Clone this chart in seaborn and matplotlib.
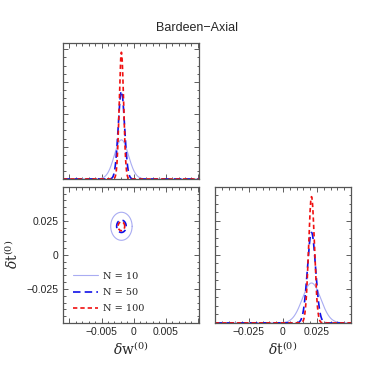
import numpy as np
import pandas as pd
import matplotlib
matplotlib.use("Agg")
import matplotlib.pyplot as plt
import seaborn as sns
from matplotlib.ticker import MultipleLocator, FuncFormatter, NullFormatter

# forecast results
n_values = [10, 50, 100]
labels = ["N = 10", "N = 50", "N = 100"]
w_center = -0.0019
t_center = 0.021
sigma_w = [0.0011, 0.00049, 0.00034]
sigma_t = [0.0068, 0.0030, 0.00215]

colors = ["#a9acf2", "#1010e8", "#f01010"]
dashes = [None, (4.5, 2.5), (2.6, 1.8)]
widths = [0.8, 1.2, 1.2]

sns.set_style("white")
plt.rcParams["font.family"] = ["Liberation Sans", "DejaVu Sans"]
plt.rcParams["mathtext.fontset"] = "dejavuserif"

fig = plt.figure(figsize=(3.9, 3.9), dpi=100)
ax_w = fig.add_axes([0.1615, 0.541, 0.349, 0.349])
ax_wt = fig.add_axes([0.1615, 0.172, 0.349, 0.349])
ax_t = fig.add_axes([0.551, 0.172, 0.349, 0.349])

wlim = (-0.011, 0.0102)
tlim = (-0.05, 0.05)


def make_fmt(vmax):
    def fmt(v, pos):
        if abs(v) < 1e-12:
            return "0"
        if abs(v) > vmax:
            return ""
        return f"{v:g}".replace("-", "\u2212")
    return FuncFormatter(fmt)


def gauss(x, mu, s):
    return np.exp(-0.5 * ((x - mu) / s) ** 2) / (s * np.sqrt(2 * np.pi))


xw = np.linspace(*wlim, 600)
xt = np.linspace(*tlim, 600)
for i, n in enumerate(n_values):
    kw = dict(color=colors[i], linewidth=widths[i])
    df_w = pd.DataFrame({"x": xw, "p": gauss(xw, w_center, sigma_w[i])})
    df_t = pd.DataFrame({"x": xt, "p": gauss(xt, t_center, sigma_t[i])})
    sns.lineplot(data=df_w, x="x", y="p", ax=ax_w, **kw)
    sns.lineplot(data=df_t, x="x", y="p", ax=ax_t, **kw)
    # 68% contour of the 2D gaussian
    a = np.linspace(0, 2 * np.pi, 200)
    r = np.sqrt(2.30)
    df_e = pd.DataFrame({"w": w_center + r * sigma_w[i] * np.cos(a),
                         "t": t_center + r * sigma_t[i] * np.sin(a)})
    sns.lineplot(data=df_e, x="w", y="t", ax=ax_wt, sort=False,
                 estimator=None, label=labels[i], **kw)
    for ax in (ax_w, ax_t, ax_wt):
        if dashes[i] is not None:
            ax.lines[-1].set_dashes(dashes[i])

ax_w.set_xlim(*wlim)
ax_w.set_ylim(0, 1260)
ax_w.xaxis.set_major_locator(MultipleLocator(0.005))
ax_w.xaxis.set_minor_locator(MultipleLocator(0.001))
ax_w.yaxis.set_major_locator(MultipleLocator(300))
ax_w.yaxis.set_minor_locator(MultipleLocator(75))

ax_wt.set_xlim(*wlim)
ax_wt.set_ylim(*tlim)
ax_wt.xaxis.set_major_locator(MultipleLocator(0.005))
ax_wt.xaxis.set_minor_locator(MultipleLocator(0.001))
ax_wt.yaxis.set_major_locator(MultipleLocator(0.025))
ax_wt.yaxis.set_minor_locator(MultipleLocator(0.005))

ax_t.set_xlim(*tlim)
ax_t.set_ylim(0, 200)
ax_t.xaxis.set_major_locator(MultipleLocator(0.025))
ax_t.xaxis.set_minor_locator(MultipleLocator(0.005))
ax_t.yaxis.set_major_locator(MultipleLocator(50))
ax_t.yaxis.set_minor_locator(MultipleLocator(12.5))

for ax in (ax_w, ax_wt, ax_t):
    ax.set_xlabel("")
    ax.set_ylabel("")
    ax.tick_params(which="both", direction="in", top=True, right=True,
                   bottom=True, left=True, color="#444444", width=0.6,
                   labelsize=7.5, pad=3)
    ax.tick_params(which="major", length=3.5)
    ax.tick_params(which="minor", length=1.8)
    for sp in ax.spines.values():
        sp.set_color("#555555")
        sp.set_linewidth(0.9)

ax_w.xaxis.set_major_formatter(NullFormatter())
ax_w.yaxis.set_major_formatter(NullFormatter())
ax_t.yaxis.set_major_formatter(NullFormatter())
ax_wt.xaxis.set_major_formatter(make_fmt(0.006))
ax_wt.yaxis.set_major_formatter(make_fmt(0.03))
ax_t.xaxis.set_major_formatter(make_fmt(0.03))

ax_wt.set_xlabel(r"$\delta\mathrm{w}^{(0)}$", fontsize=10, labelpad=2)
ax_wt.set_ylabel(r"$\delta\mathrm{t}^{(0)}$", fontsize=10, labelpad=4)
ax_t.set_xlabel(r"$\delta\mathrm{t}^{(0)}$", fontsize=10, labelpad=2)

ax_wt.legend(loc="lower left", frameon=False,
             handlelength=2.6, handletextpad=0.5, labelspacing=0.75,
             borderaxespad=0.6,
             prop={"family": "DejaVu Serif", "size": 7})

fig.text(0.505, 0.928, "Bardeen\u2212Axial", ha="center", va="center",
         fontsize=9)

fig.savefig("out.png", dpi=100)
